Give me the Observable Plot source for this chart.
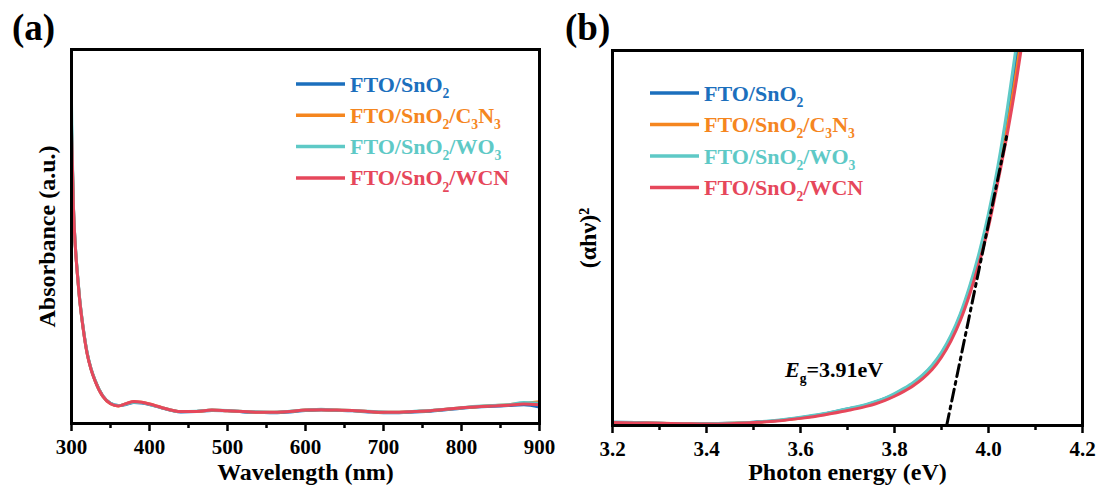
<!DOCTYPE html>
<html><head><meta charset="utf-8">
<script src="https://cdn.jsdelivr.net/npm/d3@7"></script>
<script src="https://cdn.jsdelivr.net/npm/@observablehq/plot@0.6"></script>
<style>
body{margin:0;background:#fff;}
#wrap{display:flex;width:1102px;height:488px;}
#wrap svg{display:block;overflow:visible;}
</style></head><body><div id="wrap"></div>
<script>
const FONT = '"Liberation Serif", "Times New Roman", serif';
const seriesNames = ["FTO/SnO_2", "FTO/SnO_2/C_3N_3", "FTO/SnO_2/WO_3", "FTO/SnO_2/WCN"];
const seriesColors = ["#1b6fbd", "#f5861f", "#5ec9c6", "#e6475b"];

// Panel (a): absorbance vs wavelength
const wavelength = [300, 301, 302.5, 305, 307.5, 310, 315, 320, 325, 330, 340, 350, 360, 370, 380, 390, 400, 410, 420, 430, 440, 460, 480, 500, 520, 540, 560, 580, 600, 620, 640, 660, 680, 700, 720, 740, 760, 780, 800, 820, 840, 860, 880, 900];
const absSnO2 = [0.800, 0.705, 0.577, 0.472, 0.402, 0.342, 0.255, 0.189, 0.146, 0.116, 0.074, 0.054, 0.048, 0.051, 0.056, 0.055, 0.051, 0.045, 0.039, 0.034, 0.031, 0.032, 0.035, 0.034, 0.031, 0.030, 0.029, 0.031, 0.035, 0.036, 0.035, 0.034, 0.031, 0.029, 0.029, 0.031, 0.033, 0.037, 0.041, 0.044, 0.046, 0.048, 0.050, 0.044];
const absC3N3 = [0.790, 0.702, 0.576, 0.471, 0.401, 0.341, 0.254, 0.188, 0.146, 0.116, 0.073, 0.053, 0.047, 0.053, 0.058, 0.057, 0.052, 0.046, 0.040, 0.035, 0.032, 0.032, 0.036, 0.034, 0.032, 0.030, 0.030, 0.032, 0.036, 0.037, 0.036, 0.035, 0.032, 0.030, 0.030, 0.032, 0.034, 0.038, 0.042, 0.045, 0.048, 0.050, 0.054, 0.058];
const absWO3 = [0.856, 0.720, 0.580, 0.474, 0.404, 0.344, 0.256, 0.190, 0.147, 0.117, 0.074, 0.054, 0.048, 0.052, 0.057, 0.056, 0.051, 0.045, 0.040, 0.035, 0.032, 0.033, 0.036, 0.035, 0.032, 0.031, 0.030, 0.033, 0.036, 0.038, 0.036, 0.035, 0.033, 0.031, 0.030, 0.033, 0.035, 0.038, 0.042, 0.046, 0.048, 0.050, 0.056, 0.054];
const absWCN = [0.778, 0.700, 0.575, 0.470, 0.400, 0.340, 0.253, 0.187, 0.145, 0.115, 0.073, 0.053, 0.047, 0.053, 0.059, 0.057, 0.052, 0.046, 0.040, 0.035, 0.032, 0.032, 0.036, 0.034, 0.032, 0.030, 0.030, 0.032, 0.036, 0.037, 0.036, 0.035, 0.032, 0.030, 0.030, 0.032, 0.034, 0.038, 0.042, 0.045, 0.047, 0.049, 0.052, 0.050];

// Panel (b): Tauc plot
const energy = [3.20, 3.25, 3.30, 3.35, 3.40, 3.45, 3.50, 3.55, 3.60, 3.65, 3.70, 3.72, 3.74, 3.76, 3.78, 3.80, 3.82, 3.84, 3.86, 3.88, 3.90, 3.92, 3.94, 3.96, 3.98, 4.00, 4.02, 4.04, 4.06, 4.08];
const taucSnO2 = [0.009, 0.008, 0.006, 0.005, 0.005, 0.006, 0.009, 0.013, 0.021, 0.031, 0.044, 0.049, 0.055, 0.063, 0.072, 0.083, 0.097, 0.113, 0.133, 0.159, 0.192, 0.236, 0.293, 0.366, 0.452, 0.556, 0.680, 0.822, 0.985, 1.150];
const taucC3N3 = [0.008, 0.007, 0.006, 0.005, 0.004, 0.006, 0.008, 0.013, 0.020, 0.030, 0.042, 0.047, 0.053, 0.060, 0.069, 0.080, 0.094, 0.109, 0.128, 0.153, 0.186, 0.230, 0.286, 0.357, 0.441, 0.541, 0.663, 0.795, 0.950, 1.120];
const taucWO3 = [0.009, 0.008, 0.006, 0.005, 0.005, 0.006, 0.009, 0.014, 0.022, 0.032, 0.045, 0.050, 0.056, 0.064, 0.073, 0.085, 0.099, 0.115, 0.135, 0.161, 0.195, 0.240, 0.298, 0.372, 0.460, 0.565, 0.692, 0.845, 1.020, 1.190];
const taucWCN = [0.008, 0.007, 0.006, 0.005, 0.004, 0.005, 0.008, 0.012, 0.019, 0.028, 0.040, 0.045, 0.051, 0.058, 0.067, 0.078, 0.091, 0.106, 0.125, 0.149, 0.182, 0.225, 0.280, 0.350, 0.433, 0.530, 0.650, 0.778, 0.925, 1.090];

const tangentEnergy = [3.911, 4.040];
const tangentValue = [0, 0.78];
const egText = "=3.91eV";
const egLabelAt = [3.568, 0.128];

const xTicksA = [300, 400, 500, 600, 700, 800, 900];
const xMinorA = [350, 450, 550, 650, 750, 850];
const xTicksB = [3.2, 3.4, 3.6, 3.8, 4.0, 4.2];
const xMinorB = [3.3, 3.5, 3.7, 3.9, 4.1];

const absSeries = [absSnO2, absC3N3, absWO3, absWCN];
const taucSeries = [taucSnO2, taucC3N3, taucWO3, taucWCN];

function toRows(xs, ys) { return ys.map((v, i) => ({x: xs[i], y: v})); }

function axes(major, minor, fmt) {
  return [
    Plot.axisX({ticks: major, tickSize: 8, tickPadding: 8, strokeWidth: 2.5, tickFormat: fmt,
      fontSize: 21, fontWeight: "bold", fontFamily: FONT, label: null}),
    Plot.axisX({ticks: minor, tickSize: 5, strokeWidth: 2.5, tickFormat: () => "", label: null})
  ];
}

function addText(svg, x, y, parts, opts) {
  const t = d3.select(svg).append("text").attr("x", x).attr("y", y)
    .attr("text-anchor", "start")
    .attr("font-family", FONT).attr("font-weight", "bold")
    .attr("font-size", opts.size).attr("fill", opts.fill || "black");
  let shifted = false;
  parts.forEach(p => {
    const s = t.append("tspan");
    if (p.sub) { s.attr("font-size", opts.size * 0.62).attr("dy", opts.size * 0.28); shifted = true; }
    else if (shifted) { s.attr("dy", -opts.size * 0.28); shifted = false; }
    if (p.italic) s.attr("font-style", "italic");
    s.text(p.t);
  });
}

function parseName(name) {
  return name.split(/(_\d)/).filter(Boolean).map(p => p.startsWith("_") ? {t: p.slice(1), sub: true} : {t: p});
}

function addLegend(svg, x0, y0, step) {
  const g = d3.select(svg);
  seriesNames.forEach((name, i) => {
    const y = y0 + i * step;
    g.append("line").attr("x1", x0).attr("x2", x0 + 49).attr("y1", y).attr("y2", y)
      .attr("stroke", seriesColors[i]).attr("stroke-width", 3.5);
    addText(svg, x0 + 54, y + 7.5, parseName(name), {size: 22, fill: seriesColors[i]});
  });
}

const baseStyle = {fontFamily: FONT, background: "none", overflow: "visible"};

const chartA = Plot.plot({
  width: 551, height: 488,
  marginLeft: 71, marginRight: 12, marginTop: 49, marginBottom: 65,
  style: baseStyle,
  x: {domain: [300, 900]},
  y: {domain: [0, 1], axis: null},
  marks: [
    ...absSeries.map((vals, s) => Plot.line(toRows(wavelength, vals), {x: "x", y: "y", stroke: seriesColors[s], strokeWidth: 3, curve: "monotone-x", clip: true})),
    Plot.frame({strokeWidth: 3}),
    ...axes(xTicksA, xMinorA, d => String(d)),
    Plot.text(["Wavelength (nm)"], {text: d => d, frameAnchor: "bottom", dy: 49, textAnchor: "middle", lineAnchor: "middle", fontSize: 24, fontWeight: "bold", fontFamily: FONT}),
    Plot.text(["Absorbance (a.u.)"], {text: d => d, frameAnchor: "left", dx: -24, rotate: -90, textAnchor: "middle", lineAnchor: "middle", fontSize: 24, fontWeight: "bold", fontFamily: FONT})
  ]
});

const chartB = Plot.plot({
  width: 551, height: 488,
  marginLeft: 61, marginRight: 20, marginTop: 50, marginBottom: 63,
  style: baseStyle,
  x: {domain: [3.2, 4.2]},
  y: {domain: [0, 1], axis: null},
  marks: [
    ...taucSeries.map((vals, s) => Plot.line(toRows(energy, vals), {x: "x", y: "y", stroke: seriesColors[s], strokeWidth: 3, curve: "monotone-x", clip: true})),
    Plot.line(toRows(tangentEnergy, tangentValue), {x: "x", y: "y", stroke: "black", strokeWidth: 3, strokeDasharray: "12,5,3,5"}),
    Plot.frame({strokeWidth: 3}),
    ...axes(xTicksB, xMinorB, d3.format(".1f")),
    Plot.text(["Photon energy (eV)"], {text: d => d, frameAnchor: "bottom", dy: 47, textAnchor: "middle", lineAnchor: "middle", fontSize: 24, fontWeight: "bold", fontFamily: FONT}),
    Plot.text(["(αhν)²"], {text: d => d, frameAnchor: "left", dx: -24, rotate: -90, textAnchor: "middle", lineAnchor: "middle", fontSize: 24, fontWeight: "bold", fontFamily: FONT})
  ]
});

const wrap = document.getElementById("wrap");
wrap.appendChild(chartA);
wrap.appendChild(chartB);

addText(chartA, 12, 40, [{t: "(a)"}], {size: 37});
addText(chartB, 14, 40, [{t: "(b)"}], {size: 37});
addLegend(chartA, 296, 84, 31.3);
addLegend(chartB, 99, 93, 31.5);

const xb = chartB.scale("x"), yb = chartB.scale("y");
addText(chartB, xb.apply(egLabelAt[0]), yb.apply(egLabelAt[1]),
  [{t: "E", italic: true}, {t: "g", sub: true}, {t: egText}], {size: 22});
</script>
</body></html>
